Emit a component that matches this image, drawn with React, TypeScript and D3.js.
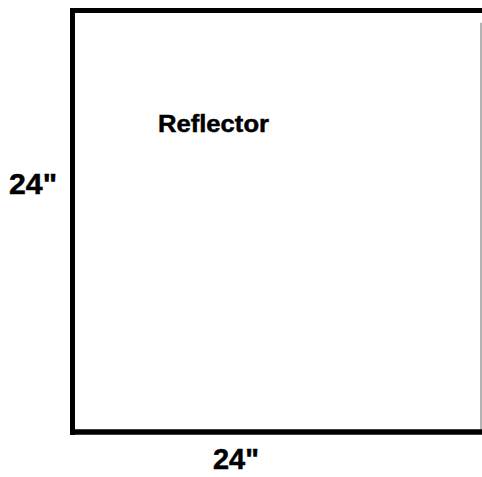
import React from "react";
import * as d3 from "d3";

const widthInches = [0, 24];
const heightInches = [0, 24];
const labels = ["Reflector"];
const dimLabels = ['24"', '24"'];

const W = 482;
const H = 477;

export default function App() {
  const x = d3.scaleLinear().domain(widthInches).range([72.5, 481]);
  const y = d3.scaleLinear().domain(heightInches).range([432, 10.5]);
  const font = "'Liberation Sans', Arial, sans-serif";
  return (
    <svg
      width={W}
      height={H}
      style={{ position: "fixed", left: 0, top: 0, background: "#fff" }}
    >
      {/* right edge (thin, faint) */}
      <line x1={x(24)} x2={x(24)} y1={y(23.3)} y2={y(0)} stroke="#9a9a9a" strokeWidth={1.5} />
      {/* top edge */}
      <line x1={x(0) - 2.5} x2={W} y1={y(24)} y2={y(24)} stroke="#000" strokeWidth={5} />
      {/* left edge */}
      <line x1={x(0)} x2={x(0)} y1={y(24) - 2.5} y2={y(0) + 3} stroke="#000" strokeWidth={5} />
      {/* bottom edge */}
      <line x1={x(0) - 2.5} x2={W} y1={y(0)} y2={y(0)} stroke="#000" strokeWidth={5.5} />
      <text
        x={158}
        y={132}
        fontFamily={font}
        fontWeight="bold"
        fontSize={24.5}
        textLength={111}
        lengthAdjust="spacingAndGlyphs"
        fill="#000"
        stroke="#000"
        strokeWidth={0.5}
      >
        {labels[0]}
      </text>
      <text
        x={9}
        y={194}
        fontFamily={font}
        fontWeight="bold"
        fontSize={30}
        textLength={48}
        lengthAdjust="spacingAndGlyphs"
        fill="#000"
        stroke="#000"
        strokeWidth={0.5}
      >
        {dimLabels[0]}
      </text>
      <text
        x={213}
        y={469}
        fontFamily={font}
        fontWeight="bold"
        fontSize={29.5}
        textLength={46}
        lengthAdjust="spacingAndGlyphs"
        fill="#000"
        stroke="#000"
        strokeWidth={0.5}
      >
        {dimLabels[1]}
      </text>
    </svg>
  );
}
